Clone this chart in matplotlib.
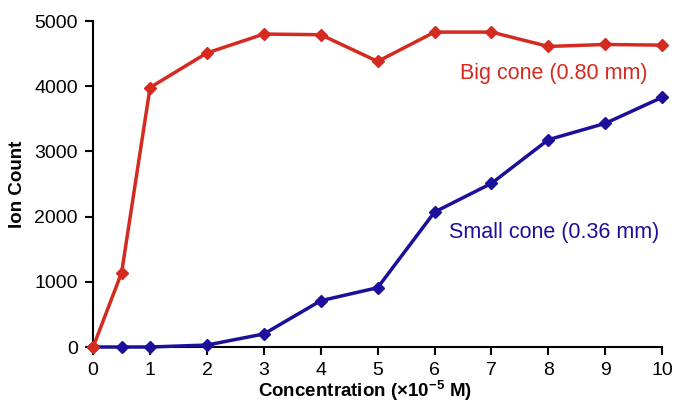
import matplotlib.pyplot as plt

plt.rcParams['font.family'] = ['Liberation Sans', 'DejaVu Sans']
plt.rcParams['mathtext.fontset'] = 'custom'
plt.rcParams['mathtext.bf'] = 'Liberation Sans:bold'

# Concentratie (x10^-5 M) en ion counts per conus
conc = [0, 0.5, 1, 2, 3, 4, 5, 6, 7, 8, 9, 10]
big_cone = [0, 1140, 3980, 4510, 4800, 4790, 4380, 4830, 4830, 4610, 4640, 4630]
small_cone = [0, 0, 0, 30, 200, 710, 910, 2070, 2510, 3180, 3430, 3830]

red = '#d42a20'
blue = '#1c0f9a'

fig = plt.figure(figsize=(6.75, 4.08), dpi=100)
ax = fig.add_axes([0.138, 0.1495, 0.843, 0.799])

ax.plot(conc, small_cone, color=blue, lw=2.5, marker='D', ms=6.5, clip_on=False, zorder=3)
ax.plot(conc, big_cone, color=red, lw=2.5, marker='D', ms=6.5, clip_on=False, zorder=4)

ax.text(8.1, 4200, 'Big cone (0.80 mm)', color=red, fontsize=15.5, ha='center', va='center')
ax.text(8.1, 1760, 'Small cone (0.36 mm)', color=blue, fontsize=15.5, ha='center', va='center')

ax.set_xlim(0, 10)
ax.set_ylim(0, 5000)
ax.set_xticks(range(0, 11))
ax.set_yticks(range(0, 5001, 1000))
ax.spines['top'].set_visible(False)
ax.spines['right'].set_visible(False)
for s in ('left', 'bottom'):
    ax.spines[s].set_linewidth(1.5)
ax.tick_params(direction='out', length=6, width=1.5, labelsize=14, pad=5)

ax.set_xlabel('Concentration (×10$^{\\mathbf{-5}}$ M)', fontsize=13.5, fontweight='bold')
ax.xaxis.set_label_coords(0.478, -0.095)
ax.set_ylabel('Ion Count', fontsize=13.5, fontweight='bold', labelpad=6)

fig.savefig('out.png', dpi=100)
